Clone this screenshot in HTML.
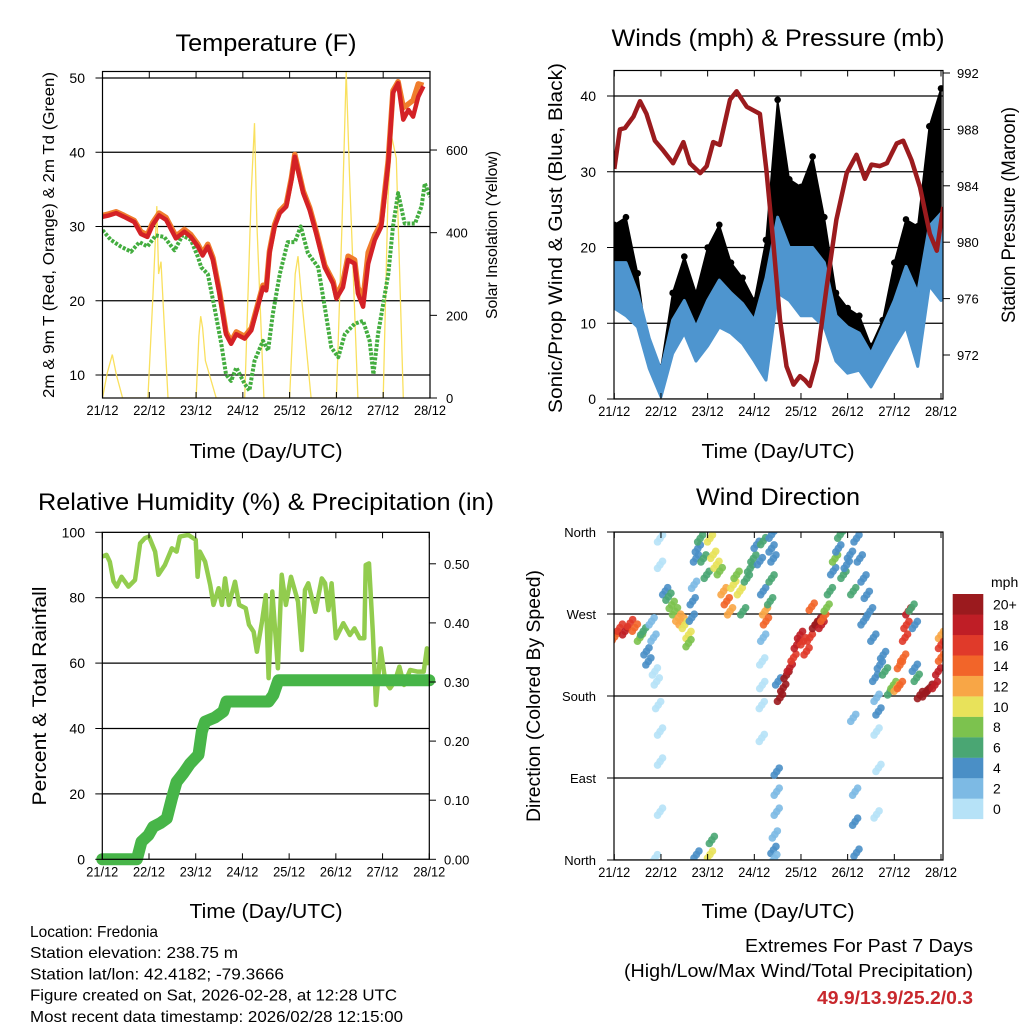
<!DOCTYPE html>
<html><head><meta charset="utf-8"><style>
html,body{margin:0;padding:0;background:#fff;}
svg{display:block;font-family:"Liberation Sans",sans-serif;}
</style></head><body>
<svg id="chart" width="1024" height="1024" viewBox="0 0 1024 1024">
<defs>
<clipPath id="c1"><rect x="102.5" y="71.5" width="327.5" height="327"/></clipPath>
<clipPath id="c2"><rect x="614" y="70.5" width="329" height="328.5"/></clipPath>
<clipPath id="c3"><rect x="102.3" y="532.3" width="327" height="327"/></clipPath>
<clipPath id="c4"><rect x="614" y="532" width="329" height="328"/></clipPath>
</defs>
</svg>
<script>
// ---------- Temperature panel data ----------
const tempDays = [0,0.14,0.29,0.46,0.68,0.82,0.96,1.07,1.21,1.36,1.57,1.75,1.89,2.04,2.14,2.25,2.36,2.5,2.64,2.75,2.86,3.04,3.18,3.43,3.5,3.57,3.68,3.79,3.93,4.04,4.11,4.29,4.43,4.57,4.75,4.93,5.0,5.14,5.25,5.39,5.46,5.57,5.68,5.82,5.96,6.11,6.21,6.32,6.43,6.54,6.64,6.75,6.86];
const redT = [31.3,31.5,31.8,31.3,30.6,29.0,28.6,30.2,31.5,30.9,28.4,29.3,28.6,27.3,26.1,27.3,25.5,21.0,15.5,14.2,15.5,14.9,16.0,21.8,21.4,26.4,30.0,31.8,32.7,36.3,39.4,34.5,32.2,29.0,24.5,22.3,20.3,21.8,25.5,25.0,21.0,19.2,25.0,28.2,30.0,38.5,48.0,49.3,44.4,45.7,44.8,47.5,48.9];
const orangeT = [31.5,31.7,32.0,31.5,30.8,29.3,28.9,30.5,31.8,31.2,28.7,29.6,28.9,27.6,26.4,27.6,25.8,21.3,15.8,14.5,15.8,15.2,16.3,22.1,21.7,26.7,30.3,32.1,33.0,36.6,39.7,34.8,32.5,29.3,24.8,22.6,20.6,22.5,26.0,25.5,21.8,20.2,26.5,28.8,30.5,39.0,48.3,49.5,46.0,46.5,47.0,49.2,49.0];
const dewDays = [0,0.18,0.39,0.61,0.79,0.96,1.14,1.32,1.54,1.71,1.89,2.04,2.11,2.25,2.39,2.54,2.64,2.75,2.86,3.04,3.14,3.25,3.43,3.54,3.64,3.79,3.96,4.11,4.24,4.39,4.61,4.75,4.89,5.04,5.18,5.39,5.57,5.71,5.79,5.89,6.11,6.21,6.32,6.46,6.68,6.82,6.89,7.0];
const dewT = [29.5,28.2,27.3,26.6,27.9,27.3,28.8,28.6,26.8,28.8,28.2,25.9,24.5,23.6,19.2,14.2,10.1,9.2,11.0,8.8,7.9,11.9,14.6,13.3,18.2,23.6,27.9,27.9,30.0,26.4,24.5,19.2,13.7,12.4,15.5,16.9,17.3,14.6,10.1,15.5,23.6,30.0,34.5,30.4,30.4,32.7,35.8,34.0];
const solarDays = [0,0.1,0.21,0.3,0.43, 0.97,1.08,1.16,1.2,1.25,1.4, 2.0,2.06,2.1,2.14,2.2,2.43, 3.04,3.18,3.25,3.3,3.45, 4.0,4.12,4.18,4.25,4.46, 5.0,5.12,5.21,5.28,5.46, 6.0,6.1,6.18,6.28,6.43];
const solarVals = [0,60,105,55,0, 0,250,464,300,330,0, 0,150,198,170,90,0, 0,500,665,420,0, 0,300,343,250,0, 0,420,790,540,0, 0,480,633,580,0];
const tempTicks = [10,20,30,40,50];
const solarTicks = [0,200,400,600];
const dayLabels = ["21/12","22/12","23/12","24/12","25/12","26/12","27/12","28/12"];

// ---------- Winds panel data ----------
const windDays = [0,0.25,0.5,0.75,1.0,1.25,1.5,1.75,2.0,2.25,2.5,2.75,3.0,3.25,3.5,3.75,4.0,4.25,4.5,4.75,5.0,5.25,5.5,5.75,6.0,6.25,6.5,6.75,7.0];
const windLo = [12,11,9.5,4,0.3,6,8.7,5,7,9.5,8.7,7.3,5,2.5,14,13,11,11,9.5,5,3.4,3.8,1.6,4.3,7,9.5,4.3,15,13];
const windHi = [18,18,14,8,3.8,10.4,13,9.5,13,15.7,14,12.6,10.4,16,24,20,20,20,18,11,9.5,8.7,6,9.5,13,17.5,14,22.8,24.5];
const gustVals = [23,24,16.6,5,4.2,14,18.8,14,20,23,18,16,13,21,39.5,29,28,32,24,14,12,11,7,10.4,18,23.7,22.8,36,41];
const presDays = [0,0.12,0.23,0.41,0.55,0.69,0.87,1.05,1.26,1.48,1.62,1.84,1.98,2.12,2.26,2.48,2.62,2.84,3.12,3.26,3.41,3.55,3.69,3.84,3.98,4.09,4.19,4.34,4.55,4.76,4.98,5.19,5.37,5.51,5.69,5.84,6.05,6.19,6.37,6.55,6.76,6.91,7.05];
const presVals = [985.2,988.0,988.1,988.9,990.0,989.1,987.2,986.5,985.6,987.1,985.6,984.9,985.4,987.1,986.9,990.1,990.7,989.6,989.1,985.1,979.9,974.5,971.2,969.9,970.5,970.2,969.8,971.6,976.8,981.6,984.9,986.2,984.5,985.5,985.4,985.6,987.0,987.2,985.8,983.9,980.6,979.4,982.5];
const windTicks = [0,10,20,30,40];
const presTicks = [972,976,980,984,988,992];

// ---------- RH panel data ----------
const rhDays = [0,0.09,0.16,0.24,0.31,0.41,0.56,0.7,0.81,0.91,1.0,1.13,1.2,1.34,1.49,1.59,1.66,1.84,2.0,2.04,2.09,2.2,2.31,2.38,2.49,2.56,2.63,2.71,2.84,2.93,3.07,3.14,3.24,3.31,3.42,3.5,3.56,3.64,3.76,3.84,3.93,4.04,4.19,4.27,4.34,4.41,4.56,4.7,4.77,4.84,4.91,5.0,5.16,5.3,5.4,5.51,5.61,5.64,5.71,5.79,5.86,5.96,6.06,6.16,6.26,6.36,6.46,6.59,6.74,6.88,6.95,7.0];
const rhVals = [92.6,93.1,91,85,83.4,86.4,83.4,85.4,96.6,98.2,98.7,94.1,87,90,95.1,94.1,98.7,99.2,97.7,86.4,94.1,91,83.9,77.8,82.9,77.8,85.9,77.8,84.9,77.8,76.8,71.7,69.6,63.5,72.7,80.8,55.4,81.9,58.4,87,77.8,86.4,78.8,64,82.4,84.4,75.7,85.9,84.4,76.2,84.4,67.6,72.2,68.6,70.6,67.6,67.6,90,90.5,69.6,47.2,64.5,54.3,52.3,54.3,58.9,53.3,57.9,57.4,57.4,64.5,59.4];
const rainDays = [0,0.74,0.84,0.99,1.09,1.24,1.38,1.49,1.59,1.74,1.88,2.06,2.13,2.2,2.41,2.59,2.66,3.56,3.66,3.77,7.0];
const rainVals = [0,0,0.03,0.041,0.055,0.061,0.069,0.103,0.131,0.146,0.162,0.177,0.216,0.233,0.24,0.25,0.267,0.267,0.278,0.303,0.303];
const rhTicks = [0,20,40,60,80,100];
const rainTicks = ["0.00","0.10","0.20","0.30","0.40","0.50"];

// ---------- Wind direction data ----------
const dirDays = [0.01,0.12,0.23,0.34,0.44,0.55,0.62,0.69,0.73,0.8,0.84,0.87,0.91,0.94,0.98,0.98,0.98,0.98,0.98,0.87,1.09,1.16,1.23,1.3,1.37,1.44,1.51,1.59,1.59,1.66,1.68,1.71,1.75,1.79,1.84,1.91,1.98,2.05,2.12,2.19,2.26,2.34,2.41,2.48,2.55,2.62,2.69,2.76,2.84,2.91,2.98,3.05,3.12,3.19,1.76,2.05,2.09,3.19,3.23,3.25,3.19,3.17,3.17,3.16,3.16,3.37,3.37,3.41,3.37,3.34,3.48,3.48,3.48,3.44,3.41,3.43,3.51,3.55,3.62,3.69,3.76,3.84,3.91,3.98,4.05,4.12,4.19,4.23,4.3,4.37,4.44,4.48,4.55,4.62,4.69,4.73,4.8,4.84,4.91,4.98,5.05,5.12,5.19,5.26,5.34,5.41,5.48,5.34,5.12,5.16,5.16,5.19,5.55,5.59,5.62,5.66,5.62,5.66,5.62,5.69,5.76,5.8,5.91,5.98,6.05,6.12,6.12,6.19,6.23,6.26,6.3,6.37,6.44,6.44,6.48,6.55,6.66,6.76,6.87,6.94,7.0,7.0,7.0];
const dirVals = [245,255,251,260,255,244,251,229,218,262,244,207,196,170,141,108,53,353,324,2,295,289,280,273,266,262,258,247,238,266,284,302,331,342,353,331,313,353,335,324,317,295,284,273,302,313,295,273,309,320,331,346,328,350,6,6,22,295,273,262,244,218,192,170,134,357,342,331,309,284,97,75,53,28,11,2,196,178,189,203,211,222,236,247,240,229,244,278,258,262,258,266,277,295,317,331,342,357,313,324,335,295,353,331,309,291,273,262,156,75,42,8,244,200,178,163,141,101,50,214,225,207,185,192,189,192,214,222,244,258,273,277,258,211,200,181,183,189,192,207,222,247,236];
const dirSpeed = [15,17,18,16,14,8,6,4,4,2,2,1,1,1,0,0,0,0,0,1,4,7,9,8,12,13,11,10,9,5,4,3,4,5,6,7,6,10,11,10,9,13,14,13,10,9,10,7,7,7,6,5,4,6,4,11,6,4,13,14,2,1,1,0,1,4,4,4,6,7,4,3,3,3,4,3,4,20,20,20,18,17,18,18,17,16,17,15,20,20,19,15,8,6,5,8,5,6,6,5,4,6,4,4,5,5,5,4,3,2,4,4,4,4,2,5,1,1,1,5,5,6,7,9,12,15,14,15,16,17,18,7,4,4,6,20,20,20,19,18,14,13,16];
const dirTicks = [0,90,180,270,360];
const dirLabels = ["North","East","South","West","North"];
const speedLevels = ["0","2","4","6","8","10","12","14","16","18","20+"];
const speedColors = ["#b6e2f7","#7dbae4","#4a8fc6","#4aa673","#7cc24e","#e8e25a","#f8a646","#f26529","#e03a2a","#bf1e26","#9b1a1e"];

// ---------- helpers ----------
const svg = document.getElementById('chart');
const NS = 'http://www.w3.org/2000/svg';
function mk(tag, attrs, parent) {
  const e = document.createElementNS(NS, tag);
  for (const k in attrs) e.setAttribute(k, attrs[k]);
  (parent || svg).appendChild(e);
  return e;
}
function txt(s, x, y, size, anchor, parent, extra) {
  const a = Object.assign({x: x, y: y, 'font-size': size, 'text-anchor': anchor || 'middle', fill: '#000'}, extra || {});
  if (a.textLength) a.lengthAdjust = 'spacingAndGlyphs';
  const t = mk('text', a, parent);
  t.textContent = s;
  return t;
}
function grp(name, clip) {
  const g = mk('g', clip ? {'clip-path': 'url(#' + clip + ')'} : {});
  
  
  return g;
}

// ---------- scales ----------
const xT = d => 102.5 + d * 46.78;
const yT = v => 78 + (50 - v) * 7.425;
const ySol = v => 398 - v * 0.4133;
const xW = d => 614.3 + d * 46.67;
const yW = v => 399 - v * 7.575;
const yP = p => 73 + (992 - p) * 14.1;
const xR = d => 102.3 + d * 46.71;
const yR = v => 859.3 - v * 3.27;
const yPr = v => 859.3 - v * 591;
const yD = v => 860 - v * 0.9111;

function polyPts(xs, ys, fx, fy) { return xs.map((d, i) => fx(d).toFixed(1) + ',' + fy(ys[i]).toFixed(1)).join(' '); }

function xAxis(g, fx, yBottom, yTop) {
  dayLabels.forEach((lab, i) => {
    const x = fx(i);
    mk('line', {x1: x, x2: x, y1: yBottom, y2: yBottom - 6, stroke: '#000', 'stroke-width': 1}, g);
    mk('line', {x1: x, x2: x, y1: yTop, y2: yTop + 6, stroke: '#000', 'stroke-width': 1}, g);
    const t = txt(lab, x, yBottom + 17, 14, 'middle', g, {textLength: 32});
    
    
  });
}

// ========== Panel 1: Temperature ==========
(function(){
  const g = grp('temperature-panel');
  const plot = grp('temperature-plot-area', 'c1');
  g.appendChild(plot);
  tempTicks.forEach(v => mk('line', {x1: 102.5, x2: 430, y1: yT(v), y2: yT(v), stroke: '#000', 'stroke-width': 1.2}, plot));
  const sol = mk('polyline', {points: polyPts(solarDays, solarVals, xT, ySol), fill: 'none', stroke: '#f9e05e', 'stroke-width': 1.3}, plot);
  
  
  const dew = mk('polyline', {points: polyPts(dewDays, dewT, xT, yT), fill: 'none', stroke: '#43ad3f', 'stroke-width': 4, 'stroke-dasharray': '3 1.5', 'stroke-linejoin': 'round'}, plot);
  
  
  const or = mk('polyline', {points: polyPts(tempDays, orangeT, xT, yT), fill: 'none', stroke: '#f07c2c', 'stroke-width': 5.5, 'stroke-linejoin': 'round'}, plot);
  
  
  const rd = mk('polyline', {points: polyPts(tempDays, redT, xT, yT), fill: 'none', stroke: '#d42126', 'stroke-width': 4.5, 'stroke-linejoin': 'round'}, plot);
  
  
  mk('rect', {x: 102.5, y: 71.5, width: 327.5, height: 326.5, fill: 'none', stroke: '#000', 'stroke-width': 1.2}, g);
  tempTicks.forEach(v => {
    mk('line', {x1: 95.5, x2: 102.5, y1: yT(v), y2: yT(v), stroke: '#000'}, g);
    const t = txt(String(v), 85, yT(v) + 5, 14, 'end', g);
    
    
  });
  solarTicks.forEach(v => {
    mk('line', {x1: 430, x2: 437, y1: ySol(v), y2: ySol(v), stroke: '#000'}, g);
    const t = txt(String(v), 446, ySol(v) + 5, 13, 'start', g);
    
    
  });
  xAxis(g, xT, 398, 71.5);
  const ti = txt('Temperature (F)', 266, 51, 24, 'middle', g, {textLength: 181});
  
  
  const xl = txt('Time (Day/UTC)', 266, 458, 20, 'middle', g, {textLength: 153});
  
  
  const yl = txt('2m & 9m T (Red, Orange) & 2m Td (Green)', 0, 0, 16, 'middle', g, {transform: 'translate(54,235) rotate(-90)', textLength: 326});
  
  
  const yr = txt('Solar Insolation (Yellow)', 0, 0, 16, 'middle', g, {transform: 'translate(497,235) rotate(-90)', textLength: 168});
  
  
})();

// ========== Panel 2: Winds & Pressure ==========
(function(){
  const g = grp('winds-panel');
  const plot = grp('winds-plot-area', 'c2');
  g.appendChild(plot);
  windTicks.forEach(v => mk('line', {x1: 614, x2: 943, y1: yW(v), y2: yW(v), stroke: '#000', 'stroke-width': 1.2}, plot));
  const gustBand = windDays.map((d, i) => xW(d).toFixed(1) + ',' + yW(gustVals[i]).toFixed(1)).concat(windDays.slice().reverse().map((d, j) => { const i = windDays.length - 1 - j; return xW(d).toFixed(1) + ',' + yW(windHi[i]).toFixed(1); })).join(' ');
  const gb = mk('polygon', {points: gustBand, fill: '#000', stroke: '#000', 'stroke-width': 1.5, 'stroke-linejoin': 'round'}, plot);
  
  
  windDays.forEach((d, i) => {
    const c = mk('circle', {cx: xW(d), cy: yW(gustVals[i]), r: 3.3, fill: '#000'}, plot);
    
    
  });
  const band = windDays.map((d, i) => xW(d).toFixed(1) + ',' + yW(windHi[i]).toFixed(1)).concat(windDays.slice().reverse().map((d, j) => { const i = windDays.length - 1 - j; return xW(d).toFixed(1) + ',' + yW(windLo[i]).toFixed(1); })).join(' ');
  const wb = mk('polygon', {points: band, fill: '#4e95cf', stroke: '#4e95cf', 'stroke-width': 3, 'stroke-linejoin': 'round'}, plot);
  
  
  const pl = mk('polyline', {points: polyPts(presDays, presVals, xW, yP), fill: 'none', stroke: '#9b1b1e', 'stroke-width': 4.5, 'stroke-linejoin': 'round'}, plot);
  
  
  mk('rect', {x: 614, y: 70.5, width: 329, height: 328.5, fill: 'none', stroke: '#000', 'stroke-width': 1.2}, g);
  windTicks.forEach(v => {
    mk('line', {x1: 607, x2: 614, y1: yW(v), y2: yW(v), stroke: '#000'}, g);
    const t = txt(String(v), 596, yW(v) + 5, 14, 'end', g);
    
    
  });
  presTicks.forEach(v => {
    mk('line', {x1: 943, x2: 950, y1: yP(v), y2: yP(v), stroke: '#000'}, g);
    const t = txt(String(v), 957, yP(v) + 5, 13, 'start', g);
    
    
  });
  xAxis(g, xW, 399, 70.5);
  const ti = txt('Winds (mph) & Pressure (mb)', 778, 46, 24, 'middle', g, {textLength: 333});
  
  
  const xl = txt('Time (Day/UTC)', 778, 458, 20, 'middle', g, {textLength: 153});
  
  
  const yl = txt('Sonic/Prop Wind & Gust (Blue, Black)', 0, 0, 19, 'middle', g, {transform: 'translate(562,238) rotate(-90)', textLength: 350});
  
  
  const yr = txt('Station Pressure (Maroon)', 0, 0, 19, 'middle', g, {transform: 'translate(1015,215) rotate(-90)', textLength: 216});
  
  
})();

// ========== Panel 3: RH & Precip ==========
(function(){
  const g = grp('humidity-panel');
  const plot = grp('humidity-plot-area', 'c3');
  g.appendChild(plot);
  rhTicks.forEach(v => mk('line', {x1: 102.3, x2: 429.3, y1: yR(v), y2: yR(v), stroke: '#000', 'stroke-width': 1.2}, plot));
  const rh = mk('polyline', {points: polyPts(rhDays, rhVals, xR, yR), fill: 'none', stroke: '#92cc4e', 'stroke-width': 4.5, 'stroke-linejoin': 'round'}, plot);
  
  
  const rn = mk('polyline', {points: polyPts(rainDays, rainVals, xR, yPr), fill: 'none', stroke: '#47b548', 'stroke-width': 12, 'stroke-linejoin': 'round', 'stroke-linecap': 'round'}, g);
  
  
  mk('rect', {x: 102.3, y: 532.3, width: 327, height: 327, fill: 'none', stroke: '#000', 'stroke-width': 1.2}, g);
  rhTicks.forEach(v => {
    mk('line', {x1: 95.3, x2: 102.3, y1: yR(v), y2: yR(v), stroke: '#000'}, g);
    const t = txt(String(v), 85, yR(v) + 5, 14, 'end', g);
    
    
  });
  rainTicks.forEach(s => {
    const y = yPr(parseFloat(s));
    mk('line', {x1: 429.3, x2: 436, y1: y, y2: y, stroke: '#000'}, g);
    const t = txt(s, 444, y + 5, 13, 'start', g);
    
    
  });
  xAxis(g, xR, 859.3, 532.3);
  const ti = txt('Relative Humidity (%) & Precipitation (in)', 266, 510, 24, 'middle', g, {textLength: 456});
  
  
  const xl = txt('Time (Day/UTC)', 266, 918, 20, 'middle', g, {textLength: 153});
  
  
  const yl = txt('Percent & Total Rainfall', 0, 0, 19, 'middle', g, {transform: 'translate(46,696) rotate(-90)', textLength: 219});
  
  
})();

// ========== Panel 4: Wind Direction ==========
(function(){
  const g = grp('wind-direction-panel');
  const plot = grp('wind-direction-plot-area', 'c4');
  g.appendChild(plot);
  dirTicks.forEach(v => mk('line', {x1: 614, x2: 943, y1: yD(v), y2: yD(v), stroke: '#000', 'stroke-width': 1.2}, plot));
  const offs = [[0,0],[2.5,-3.5],[-2.5,3.5]];
  dirDays.forEach((d, i) => {
    const idx = Math.min(10, Math.floor(dirSpeed[i] / 2));
    const gg = mk('g', {}, plot);
    
    
    offs.forEach(o => mk('circle', {cx: xW(d) + o[0], cy: yD(dirVals[i]) + o[1], r: 3.8, fill: speedColors[idx], 'fill-opacity': 0.9}, gg));
  });
  mk('rect', {x: 614, y: 532, width: 329, height: 328, fill: 'none', stroke: '#000', 'stroke-width': 1.2}, g);
  dirTicks.forEach((v, i) => {
    mk('line', {x1: 607, x2: 614, y1: yD(v), y2: yD(v), stroke: '#000'}, g);
    const t = txt(dirLabels[i], 596, yD(v) + 5, 13, 'end', g);
    
    
  });
  xAxis(g, xW, 860, 532);
  const ti = txt('Wind Direction', 778, 505, 24, 'middle', g, {textLength: 164});
  
  
  const xl = txt('Time (Day/UTC)', 778, 918, 20, 'middle', g, {textLength: 153});
  
  
  const yl = txt('Direction (Colored By Speed)', 0, 0, 19, 'middle', g, {transform: 'translate(540,696) rotate(-90)', textLength: 252});
  
  
  const cb = grp('speed-colorbar');
  speedLevels.forEach((lab, i) => {
    const j = 10 - i;
    const y = 594 + j * 20.45;
    const r = mk('rect', {x: 952.7, y: y, width: 30.6, height: 20.6, fill: speedColors[i]}, cb);
    
    
    const t = txt(lab, 993, y + 15.5, 14, 'start', cb);
    
    
  });
  const u = txt('mph', 991, 587, 14, 'start', cb);
  
  
})();

// ========== Footer ==========
(function(){
  const g = grp('station-info');
  const lines = [["Location: Fredonia", 128], ["Station elevation: 238.75 m", 208], ["Station lat/lon: 42.4182; -79.3666", 254], ["Figure created on Sat, 2026-02-28, at 12:28 UTC", 367], ["Most recent data timestamp: 2026/02/28 12:15:00", 373]];
  lines.forEach((l, i) => {
    const t = txt(l[0], 30, 937 + i * 21.2, 16, 'start', g, {textLength: l[1]});
    
    
  });
  const e = grp('extremes-summary');
  const a = txt('Extremes For Past 7 Days', 973, 952, 18, 'end', e, {textLength: 228});
  
  
  const b = txt('(High/Low/Max Wind/Total Precipitation)', 973, 977, 18, 'end', e, {textLength: 349});
  
  
  const c = txt('49.9/13.9/25.2/0.3', 973, 1004, 18, 'end', e, {textLength: 156, fill: '#c8282d', 'font-weight': 'bold'});
  
  
})();
</script>
</body></html>
